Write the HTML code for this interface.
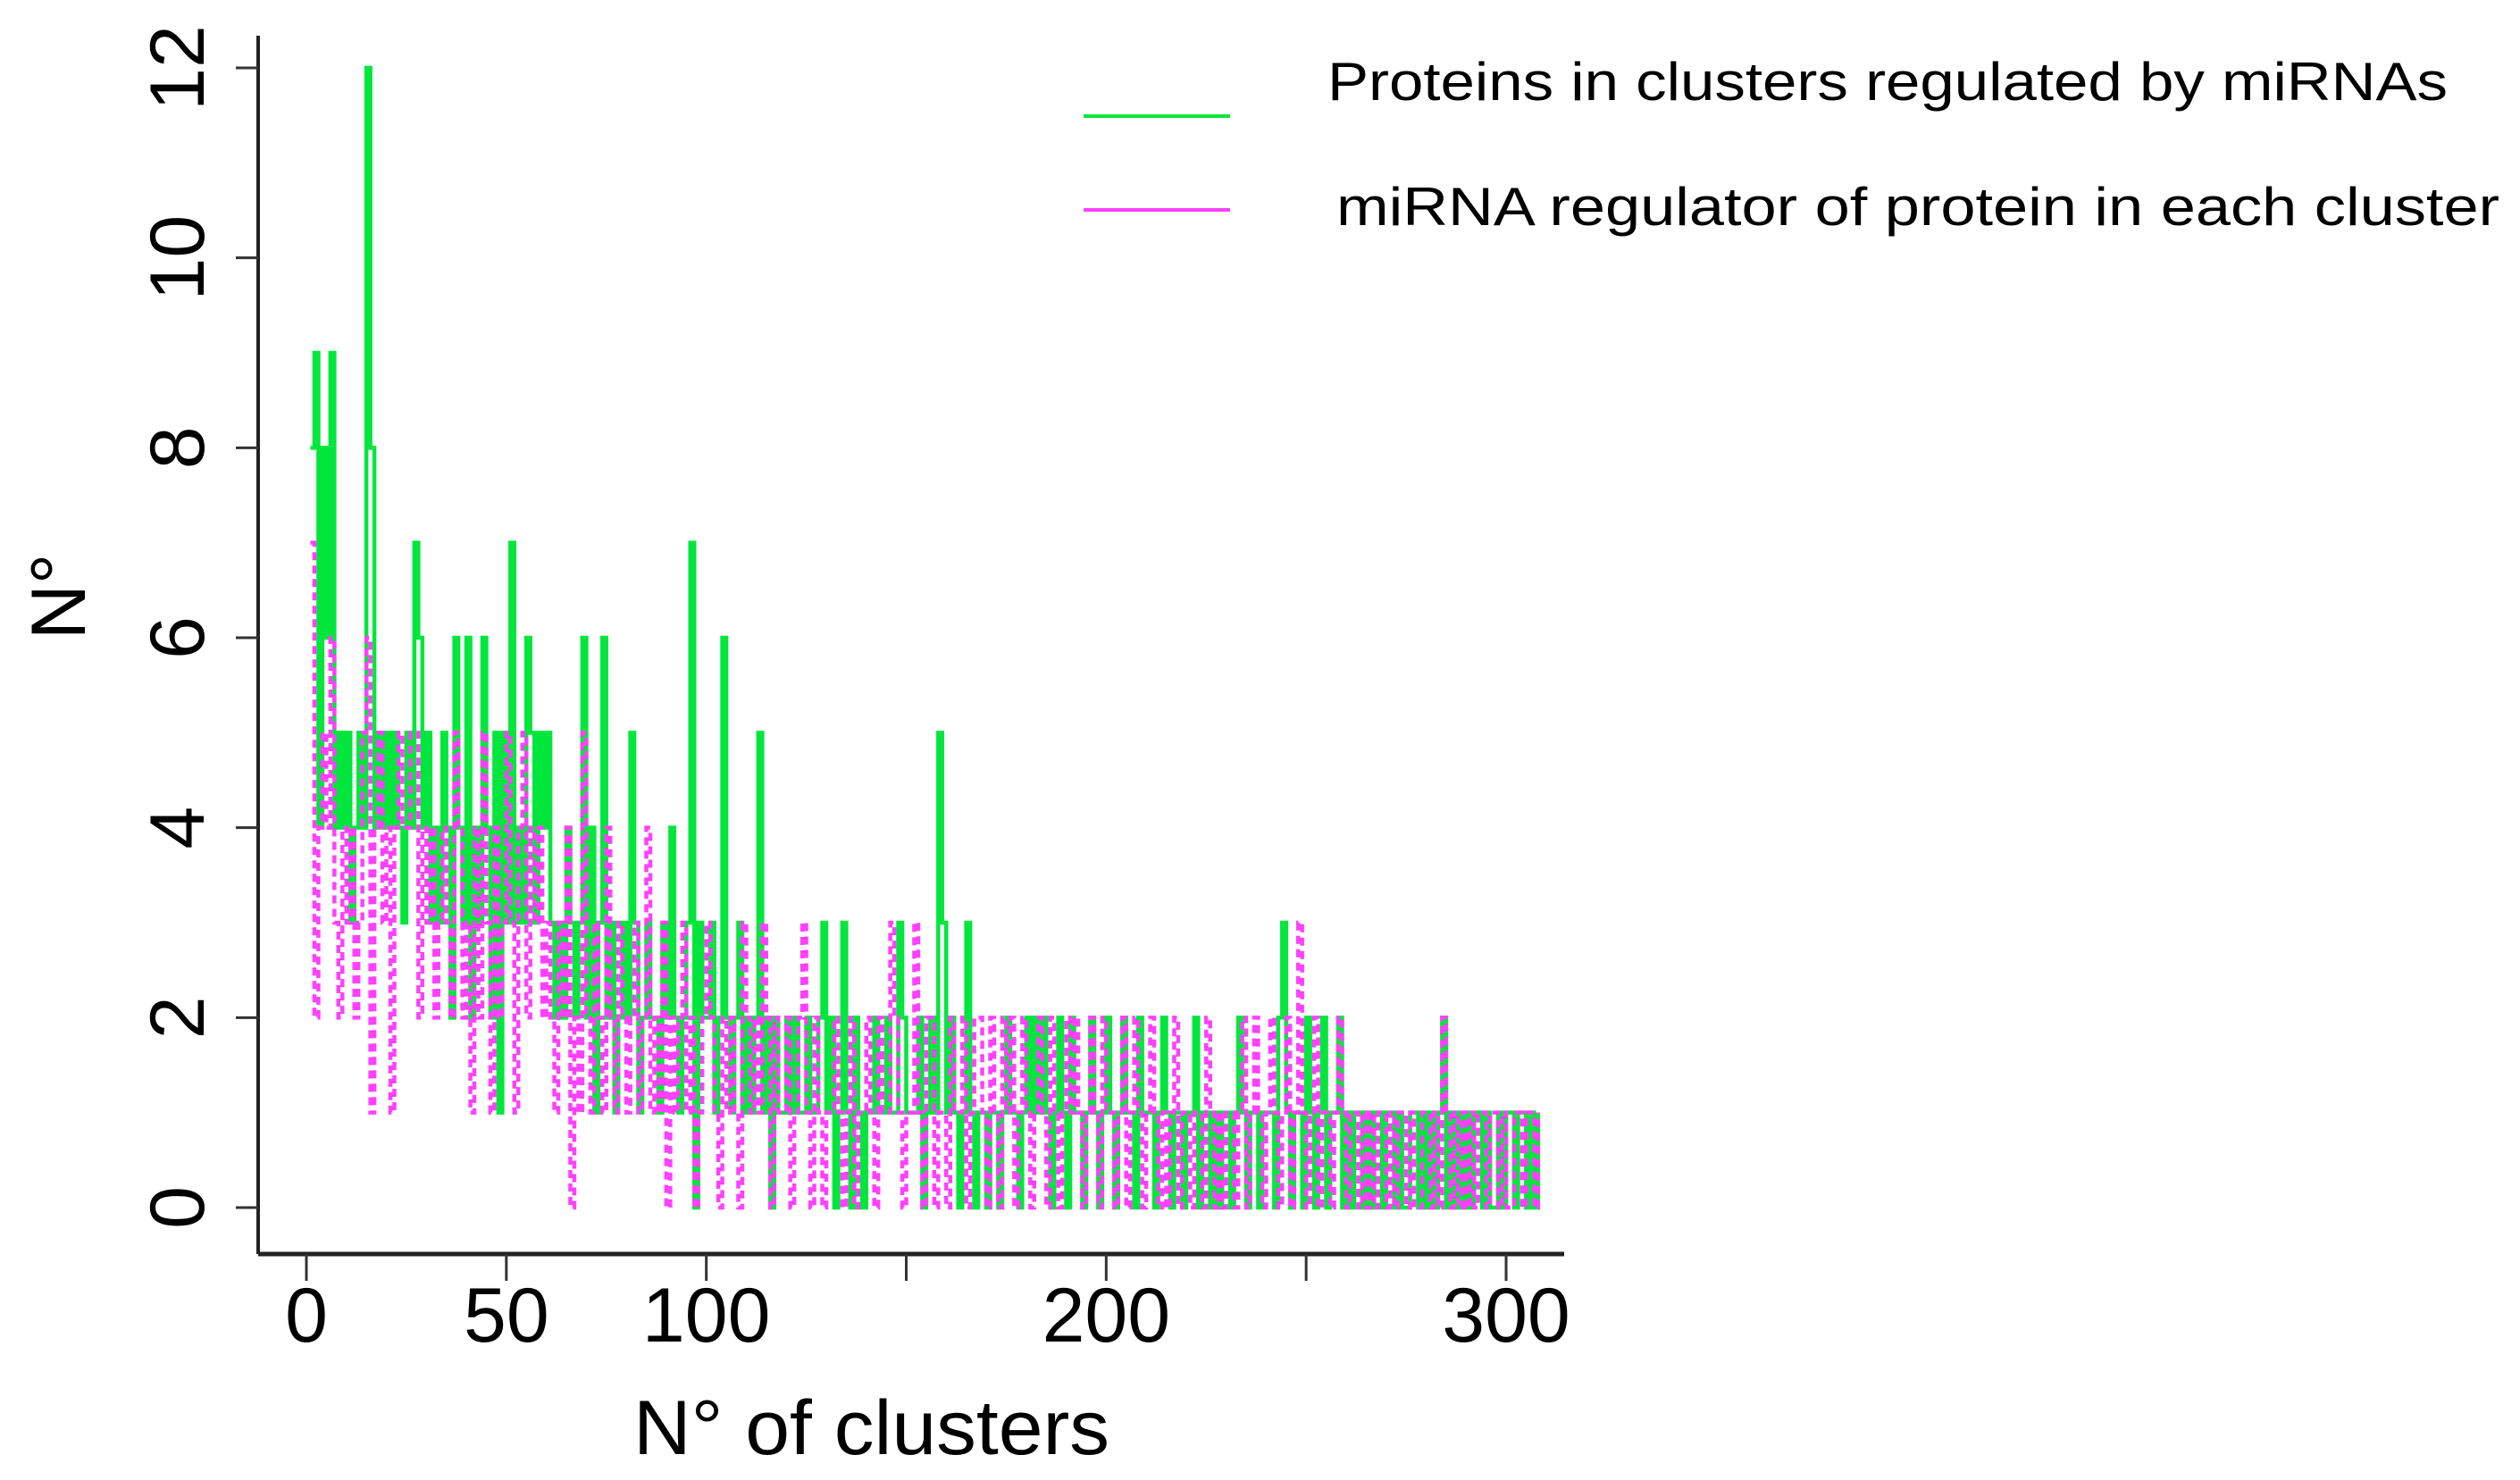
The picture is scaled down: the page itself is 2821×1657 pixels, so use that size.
<!DOCTYPE html>
<html><head><meta charset="utf-8"><style>
html,body{margin:0;padding:0;background:#fff}
svg{display:block}
text{font-family:"Liberation Sans",sans-serif;fill:#000}
</style></head><body>
<svg id="chart" width="2821" height="1657" viewBox="0 0 2821 1657">
<g id="plot"></g>
<g id="axes"></g>
<text x="709" y="1628" font-size="86" textLength="533" lengthAdjust="spacingAndGlyphs">N° of clusters</text>
<text transform="translate(95,668) rotate(-90)" font-size="86" text-anchor="middle">N°</text>
<g>
<g>
<line x1="1213" y1="130" x2="1377" y2="130" stroke="#00e63c" stroke-width="4"/>
<text x="1486" y="112" font-size="60" textLength="1254" lengthAdjust="spacingAndGlyphs">Proteins in clusters regulated by miRNAs</text>
</g>
<g>
<line x1="1213" y1="235" x2="1377" y2="235" stroke="#ff40ff" stroke-width="4"/>
<text x="1496" y="252" font-size="60" textLength="1302" lengthAdjust="spacingAndGlyphs">miRNA regulator of protein in each cluster</text>
</g>
</g>
</svg>
<script>
const xTicks=[0,50,100,150,200,250,300];
const xTickLabels=["0","50","100","","200","","300"];
const yTicks=[0,2,4,6,8,10,12];
const yTickLabels=["0","2","4","6","8","10","12"];
const proteins=[8,9,4,8,6,9,4,5,4,5,3,4,5,4,12,8,4,5,4,5,4,5,4,3,5,4,7,6,4,5,3,4,3,5,4,2,6,4,3,6,2,4,3,6,4,2,5,1,5,3,7,3,4,3,6,5,3,5,4,5,3,2,3,2,4,3,2,3,6,2,4,1,3,6,2,3,1,2,3,2,5,3,1,2,3,2,2,1,3,2,4,2,1,2,3,7,0,3,2,2,3,1,2,6,2,1,2,3,1,2,1,2,5,1,2,0,2,1,1,2,1,2,1,1,2,1,1,2,3,1,2,0,1,3,1,0,2,1,0,1,1,2,1,1,2,1,1,3,2,1,1,1,2,0,1,2,1,5,3,1,2,1,0,1,3,1,0,1,1,0,1,1,0,1,2,1,1,0,1,2,1,2,1,2,1,0,1,2,1,0,2,1,1,0,1,2,1,0,1,2,1,0,1,2,1,1,0,2,1,1,1,0,1,2,1,0,1,1,0,1,1,2,0,1,1,0,1,0,1,1,0,1,2,1,0,1,1,0,1,1,1,0,2,3,1,0,1,1,0,2,1,0,1,2,0,1,1,2,0,1,0,1,1,0,1,0,1,1,0,1,1,0,1,0,0,1,1,0,1,0,1,0,1,2,0,1,0,1,0,1,0,1,1,0,1,0,0,1,0,1,1,0,1,1,0,1,0,1];
const mirnas=[7,2,4,5,4,6,3,2,4,3,4,2,3,5,6,1,4,5,3,4,1,4,5,4,4,5,5,2,4,3,4,2,3,4,3,2,5,4,2,3,1,4,2,5,3,1,4,2,3,5,3,1,4,5,2,4,3,4,2,3,2,1,3,2,4,0,2,1,5,2,1,3,2,1,4,2,1,3,2,1,2,3,1,2,4,1,2,1,3,0,2,1,2,3,1,2,0,1,2,3,2,1,0,2,1,2,1,0,3,2,1,2,1,3,2,0,2,1,1,2,0,1,2,3,1,0,2,1,0,1,1,2,1,0,1,2,0,1,1,2,1,0,2,1,1,3,2,1,0,1,1,3,1,0,2,2,0,1,1,0,2,1,1,2,0,1,2,2,1,0,2,1,0,2,1,2,0,1,2,1,0,1,2,1,0,2,1,0,1,2,1,2,1,0,1,2,1,0,2,1,1,0,1,2,0,1,2,1,0,1,2,1,0,1,0,1,2,0,1,1,0,1,1,0,2,1,0,1,0,1,1,0,1,2,0,1,2,1,0,1,2,1,0,1,2,0,1,3,1,0,1,2,0,1,1,0,1,2,1,0,1,1,0,1,0,1,0,1,1,0,1,0,1,1,0,1,0,0,1,1,0,1,0,2,1,0,1,0,1,0,1,0,1,1,0,1,1,0,1,0,0,1,1,0,1,1,0,1];
const NS='http://www.w3.org/2000/svg';
const X0=289,X1=1751,Y0=40,YB=1404;
function xs(v){return 343+(v)*(1686-343)/300;}
function ys(v){return 1352-v*(1352-76)/12;}
const axes=document.getElementById('axes'), plot=document.getElementById('plot');
function mk(tag,attrs,parent){const e=document.createElementNS(NS,tag);for(const k in attrs)e.setAttribute(k,attrs[k]);parent.appendChild(e);return e;}
let e=mk('line',{x1:X0,y1:Y0,x2:X0,y2:YB,stroke:'#222','stroke-width':4},axes);


e=mk('line',{x1:X0,y1:YB,x2:X1,y2:YB,stroke:'#222','stroke-width':5},axes);


yTicks.forEach((t,i)=>{
 const y=ys(t);
 let l=mk('line',{x1:X0-25,y1:y,x2:X0,y2:y,stroke:'#333','stroke-width':3},axes);
 
 
 let tx=mk('text',{transform:`translate(228,${y}) rotate(-90)`,'font-size':86,'text-anchor':'middle'},axes);
 tx.textContent=yTickLabels[i];
 
 
});
xTicks.forEach((t,i)=>{
 const x=xs(t);
 let l=mk('line',{x1:x,y1:YB,x2:x,y2:YB+30,stroke:'#333','stroke-width':3},axes);
 
 
 let tx=mk('text',{x:x,y:1502,'font-size':86,'text-anchor':'middle'},axes);
 tx.textContent=xTickLabels[i];
 
 
});
function stepPath(arr){
 let d=`M${xs(1)} ${ys(arr[0])}`;
 for(let i=1;i<arr.length;i++){d+=` H${xs(i+1)} V${ys(arr[i])}`;}
 return d;
}
let p=mk('path',{d:stepPath(proteins),fill:'none',stroke:'#00e63c','stroke-width':4.5},plot);


p=mk('path',{d:stepPath(mirnas),fill:'none',stroke:'#ff40ff','stroke-width':4.5,'stroke-dasharray':'9 6'},plot);


</script>
</body></html>
